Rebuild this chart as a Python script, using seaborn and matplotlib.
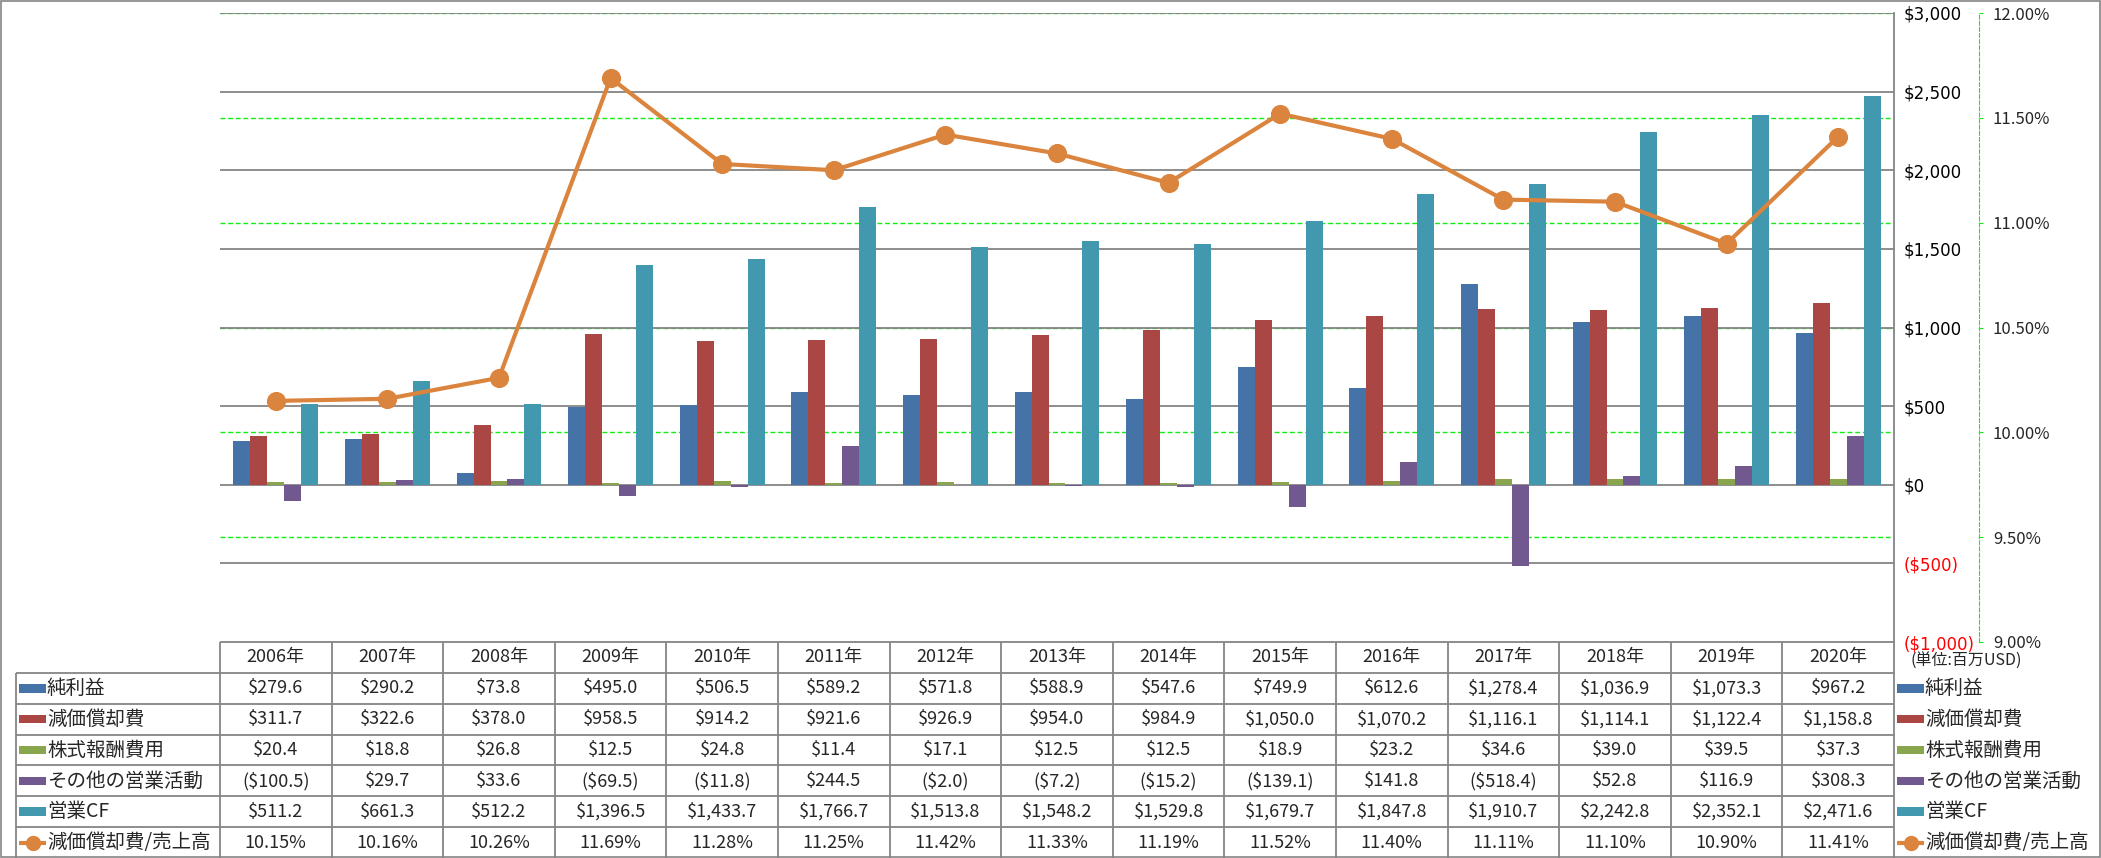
import numpy as np
import pandas as pd
import matplotlib
matplotlib.use("Agg")
import matplotlib.pyplot as plt
from matplotlib.patches import Rectangle
import seaborn as sns

# Data (百万USD)
years = [f"{y}年" for y in range(2006, 2021)]
net_income = [279.6, 290.2, 73.8, 495.0, 506.5, 589.2, 571.8, 588.9, 547.6, 749.9, 612.6, 1278.4, 1036.9, 1073.3, 967.2]
depreciation = [311.7, 322.6, 378.0, 958.5, 914.2, 921.6, 926.9, 954.0, 984.9, 1050.0, 1070.2, 1116.1, 1114.1, 1122.4, 1158.8]
stock_comp = [20.4, 18.8, 26.8, 12.5, 24.8, 11.4, 17.1, 12.5, 12.5, 18.9, 23.2, 34.6, 39.0, 39.5, 37.3]
other_ops = [-100.5, 29.7, 33.6, -69.5, -11.8, 244.5, -2.0, -7.2, -15.2, -139.1, 141.8, -518.4, 52.8, 116.9, 308.3]
operating_cf = [511.2, 661.3, 512.2, 1396.5, 1433.7, 1766.7, 1513.8, 1548.2, 1529.8, 1679.7, 1847.8, 1910.7, 2242.8, 2352.1, 2471.6]
dep_ratio = [10.15, 10.16, 10.26, 11.69, 11.28, 11.25, 11.42, 11.33, 11.19, 11.52, 11.40, 11.11, 11.10, 10.90, 11.41]

bar_names = ["純利益", "減価償却費", "株式報酬費用", "その他の営業活動", "営業CF"]
line_name = "減価償却費/売上高"
unit_label = "(単位:百万USD)"
bar_colors = ["#4572A7", "#AA4643", "#89A54E", "#71588F", "#4198AF"]
line_color = "#DB843D"

left_ticks = np.arange(-1000, 3001, 500)
right_ticks = np.arange(9.0, 12.01, 0.5)

sns.set_style("white")
plt.rcParams["font.family"] = ["Noto Sans CJK JP", "DejaVu Sans"]
plt.rcParams["text.parse_math"] = False

series = [net_income, depreciation, stock_comp, other_ops, operating_cf]
df = pd.DataFrame({
    "year": years * len(bar_names),
    "series": [n for n in bar_names for _ in years],
    "value": [v for s in series for v in s],
})

W, H = 2101, 858
fig = plt.figure(figsize=(W / 100, H / 100), dpi=100)
plot_l, plot_r, plot_t, plot_b = 220, 1894, 13, 642
ax = fig.add_axes([plot_l / W, (H - plot_b) / H, (plot_r - plot_l) / W, (plot_b - plot_t) / H])
ax2 = ax.twinx()   # secondary scale: ticks + green grid (behind bars)
ax3 = ax.twinx()   # secondary scale: line (above bars)
ax2.set_zorder(1)
ax.set_zorder(2)
ax3.set_zorder(3)
ax.patch.set_visible(False)

grid_gray = "#858585"
green = "#11EE11"
dash = (0, (3.5, 2))

# bars
sns.barplot(data=df, x="year", y="value", hue="series", hue_order=bar_names,
            palette=dict(zip(bar_names, bar_colors)), width=0.76, saturation=1,
            errorbar=None, linewidth=0, legend=False, ax=ax)
ax.set_ylim(-1000, 3000)
ax.set_axisbelow(True)
ax.yaxis.grid(True, color=grid_gray, linewidth=1.3)
ax.set_yticks(left_ticks, labels=[f"${t:,.0f}" if t >= 0 else f"(${-t:,.0f})" for t in left_ticks])
ax.yaxis.tick_right()
ax.tick_params(axis="y", length=0, pad=7, labelsize=12, labelright=True, labelleft=False)
ax.tick_params(axis="x", length=0, labelbottom=False)
for lab, t in zip(ax.get_yticklabels(), left_ticks):
    lab.set_fontfamily("DejaVu Sans")
    lab.set_color("red" if t < 0 else "black")
ax.set_xlabel("")
ax.set_ylabel("")
for s in ["left", "top", "bottom"]:
    ax.spines[s].set_visible(False)
ax.spines["right"].set_color(grid_gray)
ax.spines["right"].set_linewidth(1.3)

# secondary axis
ax2.set_ylim(9, 12)
ax2.set_yticks(right_ticks, labels=[f"{t:.2f}%" for t in right_ticks])
ax2.yaxis.grid(True, color=green, linewidth=1, linestyle=dash)
ax2.tick_params(axis="y", length=3, color=green, pad=7, labelsize=12)
for lab in ax2.get_yticklabels():
    lab.set_fontfamily("DejaVu Sans")
for s in ["left", "top", "bottom"]:
    ax2.spines[s].set_visible(False)
ax2.spines["right"].set_position(("axes", (1979 - plot_l) / (plot_r - plot_l)))
ax2.spines["right"].set_color(green)
ax2.spines["right"].set_linestyle(dash)

# line
sns.lineplot(x=np.arange(len(years)), y=dep_ratio, ax=ax3, color=line_color, linewidth=3,
             marker="o", markersize=13, markeredgecolor=line_color)
ax3.set_ylim(9, 12)
ax3.axis("off")
ax.set_xlim(-0.5, len(years) - 0.5)

# data table
tab = fig.add_axes([0, 0, 1, (H - plot_b) / H])
cw = (plot_r - plot_l) / len(years)
def colx(px):
    return -0.5 + (px - plot_l) / cw
tab.set_xlim(colx(0), colx(W))
tab.set_ylim(7, 0)
tab.axis("off")
n = len(years)
xl = colx(16)
tab.hlines([0], -0.5, n - 0.5, color=grid_gray, lw=1.3)
tab.hlines(np.arange(1, 7), xl, n - 0.5, color=grid_gray, lw=1.3)
tab.vlines(np.arange(n + 1) - 0.5, 0, 7, color=grid_gray, lw=1.3)
tab.vlines([xl], 1, 7, color=grid_gray, lw=1.3)

fs = 13
fs_lab = 14
for i, y in enumerate(years):
    tab.text(i, 0.5, y, ha="center", va="center", fontsize=fs)

def fmt(v):
    return f"${v:,.1f}" if v >= 0 else f"(${-v:,.1f})"

for r, (name, vals, c) in enumerate(zip(bar_names, series, bar_colors), start=1):
    for i, v in enumerate(vals):
        tab.text(i, r + 0.5, fmt(v), ha="center", va="center", fontsize=fs)
    for x0 in (19, 1897):
        tab.add_patch(Rectangle((colx(x0), r + 0.5 - 0.14), 27 / cw, 0.28, color=c, lw=0))
        tab.text(colx(x0 + 28), r + 0.5, name, ha="left", va="center", fontsize=fs_lab)

r = 6
for i, v in enumerate(dep_ratio):
    tab.text(i, r + 0.5, f"{v:.2f}%", ha="center", va="center", fontsize=fs)
for x0 in (19, 1897):
    tab.plot([colx(x0), colx(x0 + 27)], [r + 0.5, r + 0.5], color=line_color, lw=3, solid_capstyle="butt")
    tab.plot([colx(x0 + 13.5)], [r + 0.5], marker="o", markersize=10, color=line_color)
    tab.text(colx(x0 + 28), r + 0.5, line_name, ha="left", va="center", fontsize=fs_lab)

tab.text(colx(1910), 0.62, unit_label, ha="left", va="center", fontsize=11.5)

fig.add_artist(Rectangle((0.0005, 0.001), 0.999, 0.998, transform=fig.transFigure,
                         fill=False, edgecolor=grid_gray, lw=1.2))

fig.savefig("out.png", dpi=100)
